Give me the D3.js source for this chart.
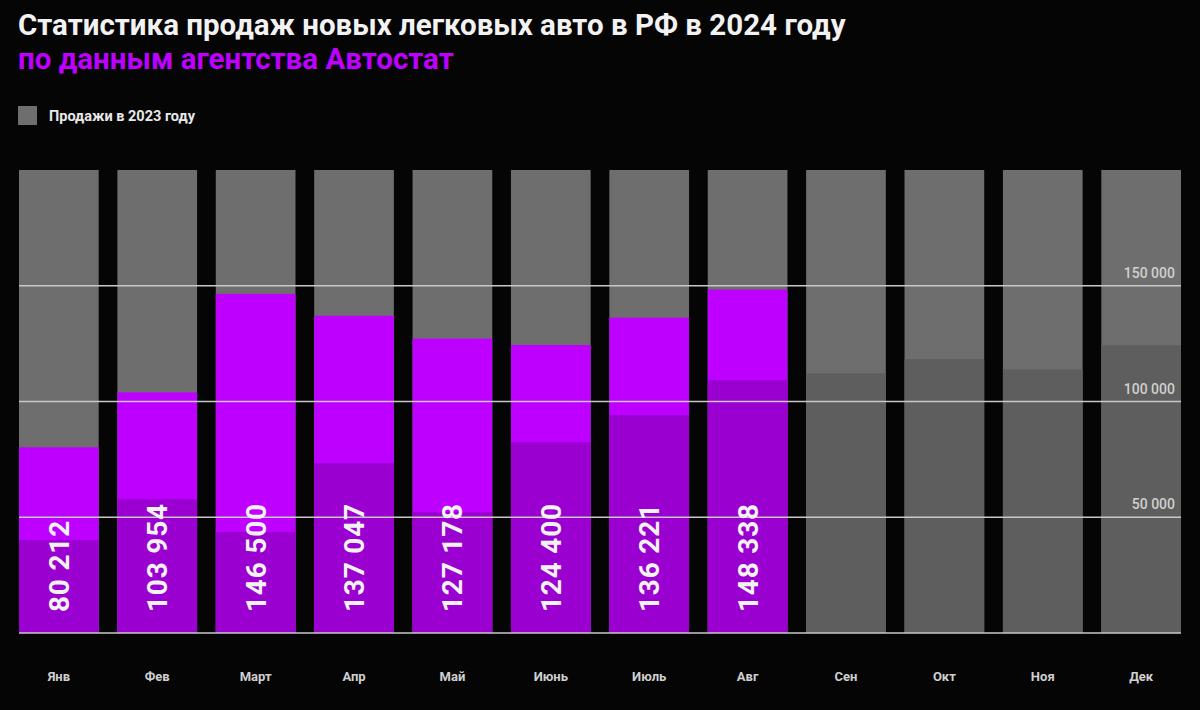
<!DOCTYPE html>
<html><head><meta charset="utf-8">
<script src="https://cdn.jsdelivr.net/npm/d3@7"></script>
<style>
body{margin:0;background:#050505;}
text{font-family:Roboto,"Noto Sans",sans-serif;}
</style></head>
<body>
<svg id="chart" width="1200" height="710"></svg>
<script>
const months = ['Янв','Фев','Март','Апр','Май','Июнь','Июль','Авг','Сен','Окт','Ноя','Дек'];
const sales2024 = [80212, 103954, 146500, 137047, 127178, 124400, 136221, 148338];
const sales2023 = [40100, 57800, 43600, 73400, 52200, 82400, 94100, 109200, 112200, 118300, 113900, 124300];
const gridTicks = [50000, 100000, 150000];

const svg = d3.select('#chart');
const x = d3.scaleBand().domain(months).range([19, 1181]).paddingInner(0.19);
const y = d3.scaleLinear().domain([0, 200000]).range([633, 170]);

// background columns
svg.append('g').selectAll('rect').data(months).join('rect')
  .attr('x', d => x(d)).attr('width', x.bandwidth())
  .attr('y', y(200000)).attr('height', y(0) - y(200000))
  .attr('fill', '#6e6e6e');

// 2024 bars
svg.append('g').selectAll('rect').data(sales2024).join('rect')
  .attr('x', (d, i) => x(months[i])).attr('width', x.bandwidth())
  .attr('y', d => y(d)).attr('height', d => y(0) - y(d))
  .attr('fill', '#bd00ff');

// 2023 overlay
svg.append('g').selectAll('rect').data(sales2023).join('rect')
  .attr('x', (d, i) => x(months[i])).attr('width', x.bandwidth())
  .attr('y', d => y(d)).attr('height', d => y(0) - y(d))
  .attr('fill', (d, i) => i < sales2024.length ? '#9a00cf' : '#5e5e5e');

// grid lines
const grid = svg.append('g');
grid.selectAll('line').data(gridTicks).join('line')
  .attr('x1', 19).attr('x2', 1181)
  .attr('y1', d => y(d)).attr('y2', d => y(d))
  .attr('stroke', '#c8c8c8').attr('stroke-width', 1.5);
grid.selectAll('text').data(gridTicks).join('text')
  .attr('x', 1175).attr('y', d => y(d) - 8)
  .attr('text-anchor', 'end').attr('fill', '#d0d0d0')
  .attr('font-size', 14).attr('font-weight', 500)
  .text(d => d3.format(',')(d).replace(/,/g, ' '));

// baseline
svg.append('line').attr('x1', 19).attr('x2', 1181)
  .attr('y1', y(0)).attr('y2', y(0)).attr('stroke', '#c8c8c8').attr('stroke-width', 1.5);

// value labels
svg.append('g').selectAll('text').data(sales2024).join('text')
  .attr('transform', (d, i) => `translate(${x(months[i]) + x.bandwidth() / 2 + 10},612) rotate(-90)`)
  .attr('fill', '#f2f2f2').attr('font-size', 28).attr('font-weight', 700)
  .attr('letter-spacing', 0.8)
  .text(d => d3.format(',')(d).replace(/,/g, ' '));

// month labels
svg.append('g').selectAll('text').data(months).join('text')
  .attr('x', d => x(d) + x.bandwidth() / 2).attr('y', 681)
  .attr('text-anchor', 'middle').attr('fill', '#d0d0d0')
  .attr('font-size', 13).attr('font-weight', 700)
  .text(d => d);

// titles
svg.append('text').attr('x', 18).attr('y', 35).attr('fill', '#f2f2f2')
  .attr('font-size', 29.5).attr('font-weight', 700)
  .text('Статистика продаж новых легковых авто в РФ в 2024 году');
svg.append('text').attr('x', 18).attr('y', 69).attr('fill', '#bd00ff')
  .attr('font-size', 29.5).attr('font-weight', 700)
  .text('по данным агентства Автостат');

// legend
svg.append('rect').attr('x', 18).attr('y', 106).attr('width', 19).attr('height', 19).attr('fill', '#6e6e6e');
svg.append('text').attr('x', 49).attr('y', 121).attr('fill', '#e8e8e8')
  .attr('font-size', 14.5).attr('font-weight', 700).text('Продажи в 2023 году');
</script>
</body></html>
